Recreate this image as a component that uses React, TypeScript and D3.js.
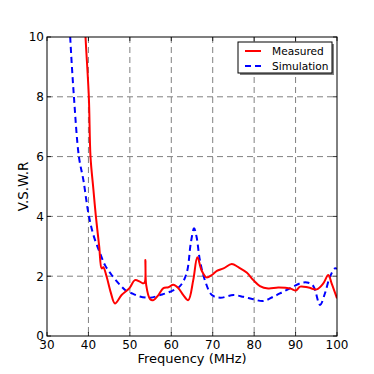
import * as d3 from 'd3';
import { useEffect, useRef } from 'react';

const FONT = '"DejaVu Sans", sans-serif';

// Measured VSWR (frequency in MHz, vswr)
const measuredFreq = [39.0, 39.3, 40.1, 40.5, 41.2, 41.8, 42.6, 43.2, 43.6, 44.4, 45.4, 46.4, 48.0, 49.9, 51.2, 52.4, 53.2, 53.6, 53.75, 53.95, 54.9, 55.7, 56.9, 58.1, 59.3, 60.5, 61.7, 62.9, 64.1, 65.3, 66.3, 67.3, 68.5, 69.8, 71.0, 72.6, 74.6, 76.2, 78.2, 79.8, 81.4, 83.4, 85.8, 88.7, 90.1, 91.1, 93.1, 95.1, 96.7, 97.9, 98.7, 100];
const measuredVswr = [11, 10.0, 8.0, 6.0, 4.9, 4.0, 3.0, 2.26, 2.3, 1.98, 1.45, 1.09, 1.37, 1.6, 1.87, 1.82, 1.76, 1.8, 2.54, 1.7, 1.23, 1.2, 1.37, 1.6, 1.63, 1.71, 1.6, 1.37, 1.2, 1.87, 2.63, 2.2, 1.96, 2.04, 2.18, 2.26, 2.41, 2.3, 2.12, 1.87, 1.67, 1.59, 1.62, 1.59, 1.52, 1.65, 1.62, 1.56, 1.76, 2.04, 1.76, 1.26];

// Simulated VSWR
const simFreq = [35.3, 35.6, 36.5, 37.7, 38.8, 40.0, 41.2, 42.8, 44.0, 45.6, 47.6, 49.2, 50.8, 52.4, 54.9, 57.3, 59.7, 62.1, 63.7, 64.7, 65.5, 66.1, 66.9, 68.1, 69.8, 71.8, 75.0, 77.4, 79.8, 82.2, 84.6, 87.0, 89.4, 91.5, 93.1, 94.3, 95.9, 97.1, 98.3, 99.5, 100];
const simVswr = [11, 10.0, 8.0, 6.0, 5.2, 4.1, 3.38, 2.77, 2.37, 2.04, 1.71, 1.5, 1.41, 1.32, 1.28, 1.37, 1.48, 1.67, 2.1, 3.1, 3.6, 3.32, 2.54, 1.87, 1.37, 1.28, 1.37, 1.31, 1.23, 1.17, 1.31, 1.48, 1.65, 1.78, 1.78, 1.67, 1.04, 1.43, 1.98, 2.26, 2.25];

const xTicks = [30, 40, 50, 60, 70, 80, 90, 100];
const yTicks = [0, 2, 4, 6, 8, 10];

const WIDTH = 374;
const HEIGHT = 374;

export default function App() {
  const ref = useRef<SVGSVGElement>(null);

  useEffect(() => {
    const svg = d3.select(ref.current);
    svg.selectAll('*').remove();

    const margin = { top: 37, right: 37, bottom: 38, left: 47 };
    const innerWidth = WIDTH - margin.left - margin.right;
    const innerHeight = HEIGHT - margin.top - margin.bottom;

    const x = d3.scaleLinear().domain([30, 100]).range([0, innerWidth]);
    const y = d3.scaleLinear().domain([0, 10]).range([innerHeight, 0]);

    svg.append('rect').attr('width', WIDTH).attr('height', HEIGHT).attr('fill', '#fff');

    svg.append('defs')
      .append('clipPath')
      .attr('id', 'plot-clip')
      .append('rect')
      .attr('width', innerWidth)
      .attr('height', innerHeight);

    const g = svg.append('g').attr('transform', `translate(${margin.left},${margin.top})`);

    // grid
    g.selectAll('line.vgrid')
      .data(xTicks.slice(1, -1))
      .enter()
      .append('line')
      .attr('x1', (d) => x(d))
      .attr('x2', (d) => x(d))
      .attr('y1', 0)
      .attr('y2', innerHeight)
      .attr('stroke', '#808080')
      .attr('stroke-width', 1)
      .attr('stroke-dasharray', '6,4');

    g.selectAll('line.hgrid')
      .data(yTicks.slice(1, -1))
      .enter()
      .append('line')
      .attr('x1', 0)
      .attr('x2', innerWidth)
      .attr('y1', (d) => y(d))
      .attr('y2', (d) => y(d))
      .attr('stroke', '#808080')
      .attr('stroke-width', 1)
      .attr('stroke-dasharray', '6,4');

    // inward tick marks on all four sides
    const tickLen = 4;
    xTicks.forEach((t) => {
      g.append('line')
        .attr('x1', x(t)).attr('x2', x(t))
        .attr('y1', innerHeight).attr('y2', innerHeight - tickLen)
        .attr('stroke', '#000').attr('stroke-width', 0.8);
      g.append('line')
        .attr('x1', x(t)).attr('x2', x(t))
        .attr('y1', 0).attr('y2', tickLen)
        .attr('stroke', '#000').attr('stroke-width', 0.8);
    });
    yTicks.forEach((t) => {
      g.append('line')
        .attr('x1', 0).attr('x2', tickLen)
        .attr('y1', y(t)).attr('y2', y(t))
        .attr('stroke', '#000').attr('stroke-width', 0.8);
      g.append('line')
        .attr('x1', innerWidth).attr('x2', innerWidth - tickLen)
        .attr('y1', y(t)).attr('y2', y(t))
        .attr('stroke', '#000').attr('stroke-width', 0.8);
    });

    const line = d3.line<[number, number]>()
      .x((d) => x(d[0]))
      .y((d) => y(d[1]))
      .curve(d3.curveCatmullRom.alpha(0.5));

    const plot = g.append('g').attr('clip-path', 'url(#plot-clip)');

    plot.append('path')
      .datum(simFreq.map((f, i) => [f, simVswr[i]] as [number, number]))
      .attr('d', line)
      .attr('fill', 'none')
      .attr('stroke', '#0000ff')
      .attr('stroke-width', 2)
      .attr('stroke-dasharray', '6,4');

    plot.append('path')
      .datum(measuredFreq.map((f, i) => [f, measuredVswr[i]] as [number, number]))
      .attr('d', line)
      .attr('fill', 'none')
      .attr('stroke', '#ff0000')
      .attr('stroke-width', 2);

    // frame
    g.append('rect')
      .attr('width', innerWidth)
      .attr('height', innerHeight)
      .attr('fill', 'none')
      .attr('stroke', '#000')
      .attr('stroke-width', 1);

    // tick labels
    g.selectAll('text.xtick')
      .data(xTicks)
      .enter()
      .append('text')
      .attr('x', (d) => x(d))
      .attr('y', innerHeight + 13.3)
      .attr('text-anchor', 'middle')
      .style('font-family', FONT)
      .style('font-size', '12px')
      .text((d) => d);

    g.selectAll('text.ytick')
      .data(yTicks)
      .enter()
      .append('text')
      .attr('x', -3)
      .attr('y', (d) => y(d) + 4.3)
      .attr('text-anchor', 'end')
      .style('font-family', FONT)
      .style('font-size', '12px')
      .text((d) => d);

    g.append('text')
      .attr('x', innerWidth / 2)
      .attr('y', innerHeight + 27)
      .attr('text-anchor', 'middle')
      .style('font-family', FONT)
      .style('font-size', '13px')
      .text('Frequency (MHz)');

    g.append('text')
      .attr('transform', 'rotate(-90)')
      .attr('x', -innerHeight / 2)
      .attr('y', -19)
      .attr('text-anchor', 'middle')
      .style('font-family', FONT)
      .style('font-size', '13.4px')
      .text('V.S.W.R');

    // legend
    const legend = g.append('g').attr('transform', `translate(${innerWidth - 99},${5})`);
    legend.append('rect')
      .attr('x', 2)
      .attr('y', 2)
      .attr('width', 94)
      .attr('height', 31)
      .attr('fill', '#808080');
    legend.append('rect')
      .attr('width', 94)
      .attr('height', 31)
      .attr('fill', '#fff')
      .attr('stroke', '#000')
      .attr('stroke-width', 1);

    const items = [
      { label: 'Measured', color: '#ff0000', dash: null },
      { label: 'Simulation', color: '#0000ff', dash: '6,4' },
    ];
    items.forEach((item, i) => {
      const yy = 9 + i * 15;
      legend.append('line')
        .attr('x1', 7)
        .attr('x2', 23)
        .attr('y1', yy)
        .attr('y2', yy)
        .attr('stroke', item.color)
        .attr('stroke-width', 2)
        .attr('stroke-dasharray', item.dash);
      legend.append('text')
        .attr('x', 34)
        .attr('y', yy + 4)
        .style('font-family', FONT)
        .style('font-size', '10.6px')
        .text(item.label);
    });
  }, []);

  return (
    <svg
      ref={ref}
      width={WIDTH}
      height={HEIGHT}
      style={{ position: 'absolute', left: 0, top: 0 }}
      role="img"
      aria-label="VSWR vs frequency"
    />
  );
}
